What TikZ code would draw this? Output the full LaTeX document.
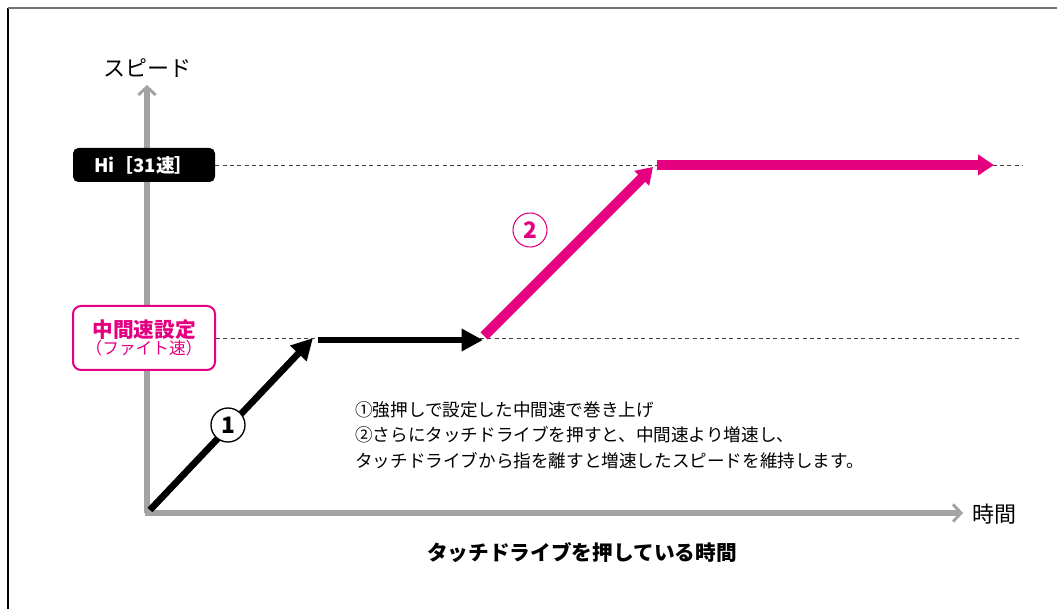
\documentclass[tikz,border=0pt]{standalone}
\usepackage{fontspec}
\setmainfont{Noto Sans CJK JP}
\usetikzlibrary{arrows.meta}
\definecolor{mypink}{HTML}{E4007F}
\definecolor{axisgray}{HTML}{A3A3A3}
\tikzset{
  axisline/.style={draw=axisgray, line width=4.5pt, -{Straight Barb[length=6pt,width=13pt,line width=2.2pt]}},
  blackarrow/.style={draw=black, line width=5pt, -{Triangle[length=16pt,width=16pt]}},
  pinkarrow/.style={draw=mypink, line width=7.5pt, -{Triangle[length=12pt,width=15pt]}},
  guide/.style={draw=black!75, line width=0.7pt, dash pattern=on 3pt off 2.5pt},
  hibox/.style={fill=black, rounded corners=4pt, minimum width=106.5pt, minimum height=25.5pt, inner sep=0pt, text=white, font=\fontsize{14pt}{16pt}\selectfont\bfseries},
  midbox/.style={draw=mypink, line width=1.5pt, fill=white, rounded corners=6pt, minimum width=106.5pt, minimum height=48pt, inner sep=0pt, text=mypink, align=center},
  numcircle/.style={circle, draw, line width=1pt, fill=white, minimum size=25.5pt, inner sep=0pt, font=\fontsize{17pt}{17pt}\selectfont\bfseries},
  label/.style={font=\fontsize{16.5pt}{18pt}\selectfont, inner sep=0pt}
}
\begin{document}
\begin{tikzpicture}[x=0.75pt,y=-0.75pt]
\useasboundingbox (0,0) rectangle (1057,609);
% frame
\draw[black, line width=0.9pt] (8,8) -- (8,609);
\draw[gray!90!black, line width=1.5pt] (8,8) -- (1057,8);

% axes
\coordinate (O) at (147,513);
\coordinate (Ytip) at (147,85);
\coordinate (Xtip) at (963,513);
\draw[axisline] (O) -- (Ytip);
\draw[axisline] (O) -- (Xtip);
\draw[axisgray, line width=4.5pt] (144.75,513) -- (150,513);

\node[label] (ylab) at (147,68) {スピード};
\node[label, anchor=west] (xlab) at (972,514) {時間};
\node[font=\fontsize{15.5pt}{18pt}\selectfont\bfseries, inner sep=0pt] (xtitle) at (582,553) {タッチドライブを押している時間};

% guide lines
\node[hibox] (hi) at (144,165) {Hi［31速］};
\node[midbox] (mid) at (144,338) {{\fontsize{15.5pt}{18pt}\selectfont\bfseries 中間速設定}\\[-1pt]{\fontsize{12.5pt}{15pt}\selectfont （ファイト速）}};
\coordinate (hiend) at (1022,165);
\coordinate (midend) at (1022,338);
\draw[guide] (hi.east) -- (hiend);
\draw[guide] (mid.east) -- (midend);

% black arrows
\coordinate (a0) at (150,510);
\coordinate (a1) at (313,338);
\coordinate (b0) at (318,340);
\coordinate (b1) at (483,340);
\draw[blackarrow] (a0) -- (a1);
\draw[blackarrow] (b0) -- (b1);
\node[numcircle] (n1) at (228,425) {1};

% pink arrows
\coordinate (p0) at (484,336);
\coordinate (p1) at (653,167);
\coordinate (q0) at (657,165);
\coordinate (q1) at (994,165);
\draw[pinkarrow, line cap=butt] (p0) -- (p1);
\draw[pinkarrow] (q0) -- (q1);
\node[numcircle, draw=mypink, line width=0.8pt, fill=none, text=mypink] (n2) at (530,230) {2};

% description
\node[anchor=north west, align=left, inner sep=0pt, font=\fontsize{13.2pt}{19.2pt}\selectfont] (desc) at (355,401) {①強押しで設定した中間速で巻き上げ\\②さらにタッチドライブを押すと、中間速より増速し、\\タッチドライブから指を離すと増速したスピードを維持します。};
\end{tikzpicture}
\end{document}
